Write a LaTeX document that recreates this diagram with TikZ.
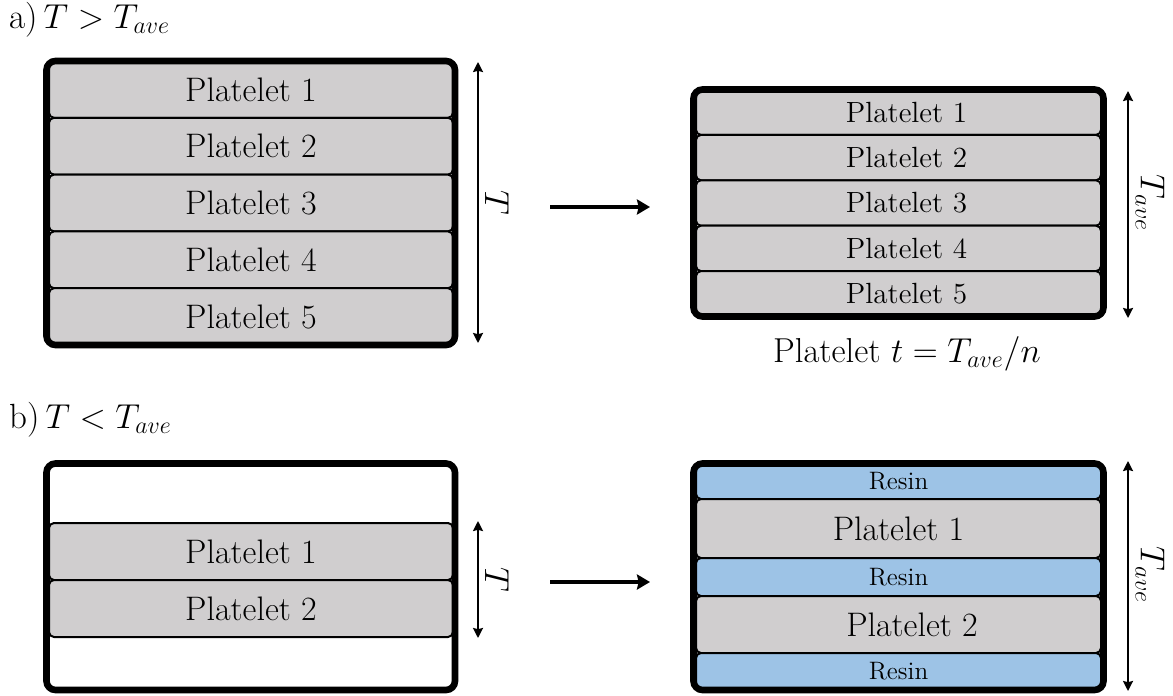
\documentclass[tikz,border=0pt]{standalone}
\usetikzlibrary{arrows.meta}
\definecolor{plgray}{RGB}{208,206,207}
\definecolor{resinblue}{RGB}{157,195,230}
\begin{document}
\begin{tikzpicture}[x=0.5pt,y=-0.5pt,
  layer/.style={draw=black, line width=1pt, rounded corners=2.5pt, inner sep=0pt,
    minimum width=202pt, font=\fontsize{17}{20}\selectfont},
  plt/.style={layer, fill=plgray},
  pltsmall/.style={plt, minimum width=202.5pt, font=\fontsize{14.6}{17}\selectfont},
  rsn/.style={layer, fill=resinblue, minimum width=202.5pt, font=\fontsize{12.6}{15}\selectfont},
  frame/.style={draw=black, line width=3.3pt, rounded corners=4.5pt},
  dimarrow/.style={line width=1pt, {Stealth[length=5pt,width=5pt,inset=0.6pt]}-{Stealth[length=5pt,width=5pt,inset=0.6pt]}},
  flowarrow/.style={line width=2.3pt, -{Stealth[length=6.5pt,width=7.5pt,inset=0.8pt]}},
  lbl/.style={font=\fontsize{17.5}{20}\selectfont, inner sep=0pt},
  dimlbl/.style={font=\fontsize{17}{20}\selectfont, inner sep=0pt, rotate=-90}
]
\useasboundingbox (0,0) rectangle (1173,696);

% ---------- a) ----------
\node[lbl, anchor=base west] (ta) at (9,28) {a)\,$T>T_{ave}$};

% left stack
\node[plt, minimum height=28.4pt] (a1) at (251,89.4) {Platelet 1};
\node[plt, minimum height=28.4pt] (a2) at (251,146.2) {Platelet 2};
\node[plt, minimum height=28.4pt] (a3) at (251,203) {Platelet 3};
\node[plt, minimum height=28.4pt] (a4) at (251,259.8) {Platelet 4};
\node[plt, minimum height=28.4pt] (a5) at (251,316.6) {Platelet 5};
\draw[frame] (46.5,61) rectangle (455,345);

\coordinate (aT1) at (478,62);
\coordinate (aT2) at (478,343);
\draw[dimarrow] (aT1) -- (aT2);
\node[dimlbl] (aTl) at (497,203) {$T$};

\coordinate (af1) at (550,207);
\coordinate (af2) at (650,207);
\draw[flowarrow] (af1) -- (af2);

% right stack
\node[pltsmall, minimum height=22.7pt] (r1) at (898.5,112.2) {\hspace*{8pt}Platelet 1};
\node[pltsmall, minimum height=22.7pt] (r2) at (898.5,157.6) {\hspace*{8pt}Platelet 2};
\node[pltsmall, minimum height=22.7pt] (r3) at (898.5,203) {\hspace*{8pt}Platelet 3};
\node[pltsmall, minimum height=22.7pt] (r4) at (898.5,248.4) {\hspace*{8pt}Platelet 4};
\node[pltsmall, minimum height=22.7pt] (r5) at (898.5,293.8) {\hspace*{8pt}Platelet 5};
\draw[frame] (693.5,89.5) rectangle (1103.5,316.5);

\coordinate (rT1) at (1128,91);
\coordinate (rT2) at (1128,318);
\draw[dimarrow] (rT1) -- (rT2);
\node[dimlbl] (rTl) at (1150,203) {$T_{ave}$};

\node[lbl, font=\fontsize{17.3}{20}\selectfont, anchor=base] (tn) at (907,362) {Platelet $t=T_{ave}/n$};

% ---------- b) ----------
\node[lbl, anchor=base west] (tb) at (9,428) {b)\,$T<T_{ave}$};

\node[plt, minimum height=28.5pt] (b1) at (251,551.5) {Platelet 1};
\node[plt, minimum height=28.5pt] (b2) at (251,608.5) {Platelet 2};
\draw[frame] (46.5,463.5) rectangle (455,690);

\coordinate (bT1) at (478,521);
\coordinate (bT2) at (478,638);
\draw[dimarrow] (bT1) -- (bT2);
\node[dimlbl] (bTl) at (497,580) {$T$};

\coordinate (bf1) at (550,582);
\coordinate (bf2) at (650,582);
\draw[flowarrow] (bf1) -- (bf2);

\node[rsn, minimum height=17.75pt] (s1) at (898.5,481.25) {Resin};
\node[plt, minimum width=202.5pt, minimum height=29.5pt] (c1) at (898.5,528.5) {Platelet 1};
\node[rsn, minimum height=19pt] (s2) at (898.5,577) {Resin};
\node[plt, minimum width=202.5pt, minimum height=28.5pt] (c2) at (898.5,624.5) {\hspace*{13.5pt}Platelet 2};
\node[rsn, minimum height=18.5pt] (s3) at (898.5,671.5) {Resin};
\draw[frame] (693.5,463.5) rectangle (1103.5,690);

\coordinate (cT1) at (1128,461);
\coordinate (cT2) at (1128,691);
\draw[dimarrow] (cT1) -- (cT2);
\node[dimlbl] (cTl) at (1150,575) {$T_{ave}$};
\end{tikzpicture}
\end{document}
